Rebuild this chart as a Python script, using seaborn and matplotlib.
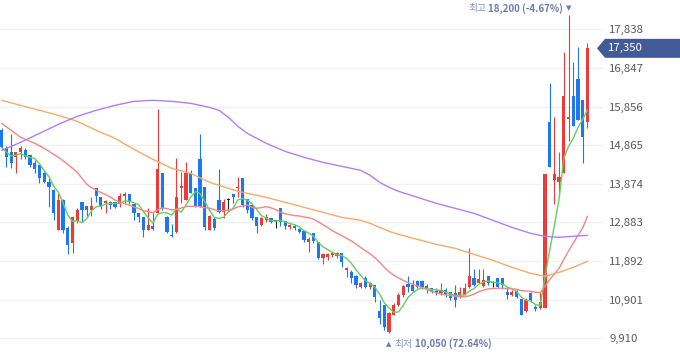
import numpy as np
import pandas as pd
import matplotlib
matplotlib.use("Agg")
import matplotlib.pyplot as plt
import matplotlib.transforms as mtransforms
from matplotlib.patches import Polygon
import seaborn as sns

# ---------------- data ----------------
opens = [15246, 14785, 14682, 14554, 14682, 14733, 14605, 14400, 14348, 14143,
         13912, 13707, 12680, 13450, 12732, 12347, 12911, 13399, 13296, 13193,
         13758, 13527, 13373, 13399, 13399, 13347, 13553, 13604, 13347, 13116,
         13014, 12680, 12783, 13116, 14143, 13014, 12552, 12629, 13758, 13450,
         14143, 13758, 14502, 13784, 12680, 12963, 13450, 13142, 13450, 13604,
         13758, 14015, 13476, 13322, 13014, 12809, 12937, 12988, 12911, 13245,
         12911, 12757, 12783, 12706, 12655, 12372, 12603, 12372, 11962, 11988,
         12039, 12013, 12090, 11654, 11603, 11500, 11218, 11449, 11218, 11269,
         10602, 10756, 10063, 10499, 10756, 11013, 11295, 11269, 11372, 11372,
         11243, 11192, 11115, 11064, 11141, 11090, 11064, 10961, 11013, 11218,
         11449, 11320, 11243, 11500, 11320, 11449, 11449, 11090, 11013, 11115,
         10910, 10602, 11064, 10705, 10679, 10679, 15451, 13963, 13912, 14143,
         15528, 16119, 16555, 16016, 15451]
highs = [15300, 14836, 15144, 14682, 14836, 14785, 14605, 14476, 14348, 14169,
         14015, 13732, 13630, 13476, 12783, 13040, 13245, 13399, 13296, 13527,
         13758, 13527, 13450, 13424, 13399, 13630, 13655, 13604, 13347, 13116,
         13014, 13245, 13116, 15785, 14143, 13040, 12834, 14528, 14169, 14425,
         14220, 13758, 15144, 13784, 13065, 13014, 14246, 13476, 13501, 13604,
         14040, 14015, 13476, 13322, 13014, 13014, 13091, 12988, 12937, 13245,
         12911, 12834, 12834, 12732, 12655, 12501, 12603, 12372, 12090, 12090,
         12116, 12116, 12090, 11731, 11654, 11526, 11346, 11500, 11346, 11269,
         10884, 10756, 10576, 10807, 11064, 11269, 11500, 11397, 11397, 11397,
         11295, 11192, 11192, 11320, 11192, 11090, 11269, 11218, 11320, 12218,
         11680, 11680, 11680, 11500, 11372, 11449, 11449, 11218, 11141, 11167,
         10910, 10936, 11090, 10756, 11090, 14117, 16452, 15580, 14682, 17248,
         18200, 16991, 17376, 16016, 17479]
lows = [14750, 14297, 14271, 14143, 14502, 14502, 14297, 14143, 13886, 13886,
        13270, 12937, 12680, 12603, 12064, 12090, 12860, 12886, 13040, 13040,
        13399, 13219, 13116, 13219, 13245, 13270, 13347, 13347, 12937, 12886,
        12501, 12680, 12680, 13116, 13193, 12603, 12501, 12603, 13373, 13450,
        13630, 13270, 13270, 12680, 12680, 12680, 13116, 12988, 13193, 13373,
        13527, 13270, 13116, 12937, 12603, 12783, 12886, 12860, 12732, 12783,
        12706, 12706, 12680, 12603, 12372, 12116, 12347, 11936, 11808, 11910,
        11988, 11962, 11731, 11474, 11320, 11192, 11192, 11192, 11167, 10833,
        10268, 10114, 10050, 10499, 10730, 10961, 11090, 11090, 11192, 11167,
        11064, 11064, 11013, 11013, 10961, 10884, 10705, 10936, 11013, 11192,
        11243, 11320, 11218, 11269, 11218, 11192, 11167, 10910, 10987, 10936,
        10499, 10576, 10833, 10602, 10653, 10679, 14297, 13347, 13527, 14143,
        14964, 15349, 15503, 14400, 15297]
closes = [14810, 14554, 14400, 14682, 14785, 14554, 14348, 14246, 14015, 13912,
          13784, 13116, 13450, 12680, 12295, 13014, 13193, 13193, 13193, 13296,
          13553, 13270, 13424, 13322, 13270, 13553, 13604, 13399, 13116, 13014,
          12680, 12809, 12706, 14246, 13245, 12629, 12527, 13527, 13810, 14143,
          13630, 13270, 13270, 12758, 13040, 12732, 13142, 13399, 13450, 13527,
          13784, 13322, 13193, 12988, 12783, 12988, 13014, 12886, 12911, 12886,
          12783, 12809, 12732, 12629, 12424, 12450, 12398, 11962, 12064, 12064,
          12090, 12090, 11859, 11705, 11449, 11269, 11320, 11218, 11320, 10961,
          10422, 10191, 10551, 10756, 11013, 11243, 11218, 11115, 11218, 11218,
          11167, 11090, 11064, 11141, 11013, 10936, 10884, 11090, 11192, 11500,
          11269, 11423, 11397, 11320, 11320, 11218, 11269, 11013, 11090, 10961,
          10499, 10884, 10884, 10653, 10833, 14117, 14297, 14117, 14040, 16119,
          15580, 15349, 15503, 15066, 17350]

# 20-day average before a full window exists
ma20_head_idx = [0, 4, 7, 9, 12, 14, 16, 18]
ma20_head = [15426, 15067, 14913, 14784, 14553, 14374, 14169, 13861]

# 60- and 120-day averages at these candle positions
ma_idx = [0, 4, 8, 12, 16, 20, 24, 28, 32, 36, 40, 44, 46, 48, 50, 52, 56, 60,
          64, 68, 72, 76, 78, 80, 82, 84, 88, 92, 96, 100, 104, 108, 112, 115,
          118, 121, 124]
ma60 = [16016, 15888, 15759, 15631, 15477, 15246, 15041, 14759, 14502, 14271,
        14143, 13912, 13835, 13758, 13681, 13630, 13527, 13399, 13270, 13142,
        13014, 12937, 12860, 12757, 12655, 12578, 12449, 12321, 12218, 12064,
        11910, 11731, 11577, 11500, 11602, 11731, 11885]
ma120 = [14733, 14938, 15169, 15400, 15605, 15759, 15888, 15990, 16016, 15990,
         15939, 15836, 15759, 15580, 15349, 15169, 14913, 14707, 14553, 14425,
         14322, 14220, 14092, 13912, 13784, 13681, 13527, 13373, 13245, 13116,
         12937, 12757, 12603, 12527, 12501, 12527, 12552]

ytick_vals = [9910, 10901, 11892, 12883, 13874, 14865, 15856, 16847, 17838]

# ---------------- style ----------------
sns.set_style("white")
plt.rcParams['font.family'] = ['Noto Sans CJK KR', 'DejaVu Sans']

RED = "#ef3a3a"
BLUE = "#1b78f0"
BLACK = "#222222"
C_MA5 = "#62d062"
C_MA20 = "#f68585"
C_MA60 = "#f9aa6a"
C_MA120 = "#b07ff5"
LBL = "#6a7db3"

df = pd.DataFrame({"open": opens, "high": highs, "low": lows, "close": closes})
df["i"] = np.arange(len(df))
df["ma5"] = df["close"].rolling(5, min_periods=1).mean()
df["ma20"] = df["close"].rolling(20).mean()
ma20_line = pd.concat([
    pd.DataFrame({"i": ma20_head_idx, "v": ma20_head}),
    df.loc[df["ma20"].notna(), ["i", "ma20"]].rename(columns={"ma20": "v"}),
], ignore_index=True)

fig = plt.figure(figsize=(6.8, 3.58), dpi=100)
W_AX = 603 / 680
ax = fig.add_axes([0, 0, W_AX, 1])

# grid
for v in ytick_vals:
    ax.axhline(v, color="#f0f1f6", lw=1.0, zorder=0)

# candles
colors = np.where(df["close"] > df["open"], RED,
                  np.where(df["close"] < df["open"], BLUE, BLACK))
ax.vlines(df["i"], df["low"], df["high"], colors=colors, lw=0.8, zorder=2)
body_lo = np.minimum(df["open"], df["close"])
body_h = np.maximum(np.abs(df["close"] - df["open"]), 28)
ax.bar(df["i"], body_h, bottom=body_lo, width=0.68, color=colors,
       linewidth=0, zorder=3)

# moving averages
sns.lineplot(x=df["i"], y=df["ma5"], color=C_MA5, lw=1.0, ax=ax, zorder=4,
             legend=False)
sns.lineplot(x=ma20_line["i"], y=ma20_line["v"], color=C_MA20, lw=1.0, ax=ax,
             zorder=4, legend=False)
for vals, c in [(ma60, C_MA60), (ma120, C_MA120)]:
    sns.lineplot(x=ma_idx, y=vals, color=c, lw=1.0, ax=ax, zorder=4,
                 legend=False)

ax.set_xlim(-0.36, 127.3)
ax.set_ylim(9405, 18590)
ax.set_xlabel("")
ax.set_ylabel("")
ax.set_xticks([])
ax.yaxis.tick_right()
ax.set_yticks(ytick_vals)
ax.set_yticklabels([f"{v:,}" for v in ytick_vals])
ax.tick_params(axis="y", length=0, pad=4.5, labelsize=8.2, labelcolor="#5a5a5a")
for s in ax.spines.values():
    s.set_visible(False)

# current price tag
last = closes[-1]
trans = mtransforms.blended_transform_factory(ax.transAxes, ax.transData)
hh = 9.5 * (18590 - 9405) / 358
tag = Polygon([(597 / 603, last), (605 / 603, last + hh), (680 / 603, last + hh),
               (680 / 603, last - hh), (605 / 603, last - hh)],
              closed=True, transform=trans, facecolor="#425a96",
              edgecolor="none", clip_on=False, zorder=5)
ax.add_patch(tag)
ax.text(608 / 603, last, f"{last:,}", transform=trans, ha="left", va="center",
        color="white", fontsize=8.2, zorder=6, clip_on=False)

# max / min labels
imax = int(np.argmax(highs))
imin = int(np.argmin(lows))
hmax = highs[imax]
lmin = lows[imin]
pmax = (last / hmax - 1) * 100
pmin = (last / lmin - 1) * 100
FS = 7.0

t1 = ax.annotate("▼", xy=(imax, hmax), xytext=(0, 5), textcoords="offset points",
                 ha="center", va="center", fontsize=5, color=LBL,
                 family=["DejaVu Sans"], annotation_clip=False)
t2 = ax.annotate(f"{hmax:,} ({pmax:.2f}%)", xy=(0, 0.5), xycoords=t1,
                 xytext=(-2, 0), textcoords="offset points", ha="right",
                 va="center", fontsize=FS, fontweight="bold", color=LBL)
ax.annotate("최고", xy=(0, 0.5), xycoords=t2, xytext=(-1.5, 0),
            textcoords="offset points", ha="right", va="center", fontsize=FS,
            color="#8393c4")

b1 = ax.annotate("▲", xy=(imin, lmin), xytext=(0, -8), textcoords="offset points",
                 ha="center", va="center", fontsize=5, color=LBL,
                 family=["DejaVu Sans"], annotation_clip=False)
b2 = ax.annotate("최저", xy=(1, 0.5), xycoords=b1, xytext=(2, 0),
                 textcoords="offset points", ha="left", va="center",
                 fontsize=FS, color="#8393c4")
ax.annotate(f"{lmin:,} ({pmin:.2f}%)", xy=(1, 0.5), xycoords=b2, xytext=(1.5, 0),
            textcoords="offset points", ha="left", va="center", fontsize=FS,
            fontweight="bold", color=LBL)

fig.savefig("out.png", dpi=100)
